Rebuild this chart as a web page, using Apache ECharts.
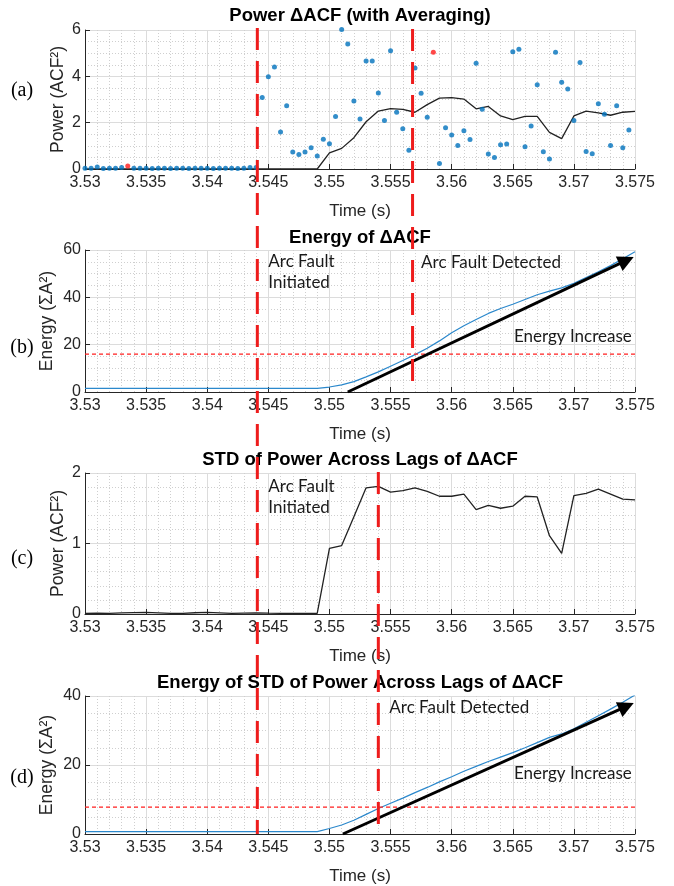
<!DOCTYPE html>
<html>
<head>
<meta charset="utf-8">
<title>Arc fault detection – ΔACF metrics</title>
<script src="https://cdn.jsdelivr.net/npm/echarts@6/dist/echarts.min.js"></script>
<style>
  html, body { margin: 0; padding: 0; background: #fff; }
  #chart { width: 674px; height: 886px; }
</style>
</head>
<body>
<div id="chart"></div>
<script>
// ---- sample instants of the raw ΔACF power (0.5 ms spacing) ----
const sampleTimes = [
  3.5300,3.5305,3.5310,3.5315,3.5320,3.5325,3.5330,3.5335,3.5340,3.5345,
  3.5350,3.5355,3.5360,3.5365,3.5370,3.5375,3.5380,3.5385,3.5390,3.5395,
  3.5400,3.5405,3.5410,3.5415,3.5420,3.5425,3.5430,3.5435,3.5440,3.5445,
  3.5450,3.5455,3.5460,3.5465,3.5470,3.5475,3.5480,3.5485,3.5490,3.5495,
  3.5500,3.5505,3.5510,3.5515,3.5520,3.5525,3.5530,3.5535,3.5540,3.5545,
  3.5550,3.5555,3.5560,3.5565,3.5570,3.5575,3.5580,3.5585,3.5590,3.5595,
  3.5600,3.5605,3.5610,3.5615,3.5620,3.5625,3.5630,3.5635,3.5640,3.5645,
  3.5650,3.5655,3.5660,3.5665,3.5670,3.5675,3.5680,3.5685,3.5690,3.5695,
  3.5700,3.5705,3.5710,3.5715,3.5720,3.5725,3.5730,3.5735,3.5740,3.5745
];
const powerSamples = [
  0.03,0.03,0.09,0.02,0.03,0.03,0.06,0.13,0.03,0.03,
  0.03,0.02,0.03,0.03,0.02,0.03,0.03,0.02,0.03,0.03,
  0.03,0.02,0.03,0.03,0.03,0.02,0.03,0.07,0.06,3.09,
  3.98,4.40,1.60,2.73,0.73,0.63,0.73,0.92,0.56,1.28,
  1.09,2.27,6.02,5.40,2.93,2.16,4.66,4.66,3.28,2.09,
  5.10,2.45,1.74,0.81,4.36,3.27,2.23,5.04,0.24,1.78,
  1.47,1.01,1.65,1.27,4.56,2.58,0.65,0.50,1.05,1.08,
  5.06,5.17,0.96,1.86,3.64,0.75,0.43,5.04,3.74,3.45,
  2.09,4.60,0.76,0.66,2.82,2.36,1.01,2.73,0.92,1.68
];
// samples drawn in red
const flaggedTimes = [3.5335, 3.5585];

// ---- windowed quantities (1 ms spacing) ----
const windowTimes = [
  3.530,3.531,3.532,3.533,3.534,3.535,3.536,3.537,3.538,3.539,
  3.540,3.541,3.542,3.543,3.544,3.545,3.546,3.547,3.548,3.549,
  3.550,3.551,3.552,3.553,3.554,3.555,3.556,3.557,3.558,3.559,
  3.560,3.561,3.562,3.563,3.564,3.565,3.566,3.567,3.568,3.569,
  3.570,3.571,3.572,3.573,3.574,3.575
];
const avgPower = [
  0,0,0,0,0,0,0,0,0,0, 0,0,0,0,0,0,0,0,0,0,
  0.70,0.89,1.35,2.04,2.50,2.61,2.57,2.45,2.78,3.06,
  3.08,3.02,2.60,2.70,2.29,2.13,2.27,2.27,1.58,1.31,
  2.29,2.50,2.42,2.32,2.45,2.49
];
const energyAcf = [
  1.5,1.5,1.5,1.5,1.5,1.5,1.5,1.5,1.5,1.5, 1.5,1.5,1.5,1.5,1.5,1.5,1.5,1.5,1.5,1.5,
  2.1,3.0,4.4,6.4,8.5,10.9,13.3,15.8,18.5,21.6,
  25.0,28.0,30.6,33.2,35.3,37.1,39.1,41.1,42.6,44.0,
  45.9,48.4,50.8,53.4,56.3,59.3
];
const stdPower = [
  0.010,0.012,0.010,0.015,0.020,0.022,0.015,0.008,0.010,0.018,
  0.022,0.015,0.008,0.012,0.015,0.012,0.010,0.010,0.010,0.010,
  0.93,0.97,1.38,1.79,1.81,1.73,1.75,1.79,1.74,1.67,
  1.67,1.70,1.48,1.54,1.50,1.53,1.67,1.66,1.11,0.86,
  1.68,1.71,1.77,1.70,1.63,1.62
];
const energyStd = [
  0.7,0.7,0.7,0.7,0.7,0.7,0.7,0.7,0.7,0.7, 0.7,0.7,0.7,0.7,0.7,0.7,0.7,0.7,0.7,0.7,
  1.6,2.6,4.0,5.7,7.4,8.9,10.4,12.0,13.5,15.1,
  16.6,18.2,19.6,21.0,22.3,23.6,25.0,26.5,28.0,29.0,
  30.5,32.4,34.3,36.2,38.2,40.3
];

// detection thresholds
const thresholdEnergyAcf = 16;
const thresholdEnergyStd = 7.8;

// event instants (s)
const faultInitTime = 3.5441;
const detectTimeAcf = 3.5568;
const detectTimeStd = 3.5540;

// trend arrows [start, end] in (time, energy)
const arrowAcf = [[3.5515, 0], [3.5743, 55.6]];
const arrowStd = [[3.5511, 0], [3.5743, 37.0]];

// axis tick labels
const timeTicks = ['3.53','3.535','3.54','3.545','3.55','3.555','3.56','3.565','3.57','3.575'];

const panelTitles = [
  'Power ΔACF (with Averaging)',
  'Energy of ΔACF',
  'STD of Power Across Lags of ΔACF',
  'Energy of STD of Power Across Lags of ΔACF'
];
const panelYNames = ['Power (ACF²)', 'Energy (ΣA²)', 'Power (ACF²)', 'Energy (ΣA²)'];
const panelLetters = ['(a)', '(b)', '(c)', '(d)'];

// ---------------------------------------------------------------
const SANS = 'Liberation Sans, Arial, Helvetica, sans-serif';
const NOTE_FONT = '17px Lato, "Open Sans", sans-serif';
const AX = '#262626';
const T_MIN = 3.53, T_MAX = 3.575;

const grids = [
  { left: 85, right: 39, top: 30,  height: 139 },
  { left: 85, right: 39, top: 250, height: 142 },
  { left: 85, right: 39, top: 473, height: 141 },
  { left: 85, right: 39, top: 696, height: 139 }
];
const titleTops = [6, 228, 450, 673];
// y label sits clear of one- or two-digit tick labels
const yNameGaps = [18, 29, 18, 29];
const yScales = [
  { max: 6,  interval: 2,  minor: 4 },
  { max: 60, interval: 20, minor: 4 },
  { max: 2,  interval: 1,  minor: 5 },
  { max: 40, interval: 20, minor: 4 }
];

const pair = (xs, ys) => xs.map((x, i) => [x, ys[i]]);

function xAxisFor(i) {
  return {
    type: 'value', gridIndex: i, min: T_MIN, max: T_MAX, interval: 0.005,
    axisLine: { show: true, onZero: false, lineStyle: { color: AX, width: 1 } },
    axisTick: { show: true, inside: true, length: 5, lineStyle: { color: AX } },
    axisLabel: {
      color: AX, fontSize: 16, fontFamily: SANS, margin: 6,
      formatter: v => timeTicks[Math.round((v - T_MIN) / 0.005)]
    },
    splitLine: { show: true, lineStyle: { color: '#dcdcdc', width: 1 } },
    minorTick: { show: false, splitNumber: 5 },
    minorSplitLine: { show: true, lineStyle: { color: '#cfcfcf', width: 1, type: [1, 2] } },
    name: 'Time (s)', nameLocation: 'middle', nameGap: 34, nameMoveOverlap: false,
    nameTextStyle: { color: AX, fontSize: 17, fontFamily: SANS }
  };
}
function yAxisFor(i) {
  const s = yScales[i];
  return {
    type: 'value', gridIndex: i, min: 0, max: s.max, interval: s.interval,
    axisLine: { show: true, lineStyle: { color: AX, width: 1 } },
    axisTick: { show: true, inside: true, length: 5, lineStyle: { color: AX } },
    axisLabel: { color: AX, fontSize: 16, fontFamily: SANS, margin: 4 },
    splitLine: { show: true, lineStyle: { color: '#dcdcdc', width: 1 } },
    minorTick: { show: false, splitNumber: s.minor },
    minorSplitLine: { show: true, lineStyle: { color: '#cfcfcf', width: 1, type: [1, 2] } },
    name: panelYNames[i], nameLocation: 'middle', nameGap: yNameGaps[i], nameMoveOverlap: false,
    nameTextStyle: { color: AX, fontSize: 17.5, fontFamily: SANS }
  };
}

// horizontal detection threshold across the full time span
const thresholdSeries = (idx, value) => ({
  type: 'line', xAxisIndex: idx, yAxisIndex: idx, silent: true, z: 4,
  showSymbol: false, symbol: 'none',
  lineStyle: { color: '#ff1f1f', width: 1.3, type: [4, 3] },
  data: [[T_MIN, value], [T_MAX, value]]
});
const arrowSeries = (idx, pts) => ({
  type: 'lines', coordinateSystem: 'cartesian2d', xAxisIndex: idx, yAxisIndex: idx,
  silent: true, z: 5,
  symbol: ['none', 'triangle'], symbolSize: [0, 16],
  lineStyle: { color: '#000', width: 3, opacity: 1 },
  data: [{ coords: pts }]
});

const option = {
  animation: false,
  backgroundColor: '#fff',
  title: panelTitles.map((t, i) => ({
    text: t, left: 360, top: titleTops[i], textAlign: 'center', padding: 0,
    textStyle: { color: '#000', fontSize: 18.5, fontWeight: 'bold', fontFamily: SANS }
  })),
  grid: grids,
  xAxis: [0, 1, 2, 3].map(xAxisFor),
  yAxis: [0, 1, 2, 3].map(yAxisFor),
  series: [
    {
      type: 'scatter', xAxisIndex: 0, yAxisIndex: 0, clip: false,
      symbol: 'circle', symbolSize: 5, z: 3,
      itemStyle: { color: '#0072BD' },
      data: sampleTimes.map((t, i) => {
        const flagged = flaggedTimes.some(f => Math.abs(f - t) < 1e-6);
        return flagged
          ? { value: [t, powerSamples[i]], itemStyle: { color: '#ff1a1a' } }
          : [t, powerSamples[i]];
      })
    },
    {
      type: 'line', xAxisIndex: 0, yAxisIndex: 0, showSymbol: false, symbol: 'none',
      lineStyle: { color: '#222', width: 1.3 }, z: 2,
      data: pair(windowTimes, avgPower)
    },
    thresholdSeries(1, thresholdEnergyAcf),
    {
      type: 'line', xAxisIndex: 1, yAxisIndex: 1, showSymbol: false, symbol: 'none',
      lineStyle: { color: '#2b88cc', width: 1.2 },
      data: pair(windowTimes, energyAcf)
    },
    arrowSeries(1, arrowAcf),
    {
      type: 'line', xAxisIndex: 2, yAxisIndex: 2, showSymbol: false, symbol: 'none',
      lineStyle: { color: '#222', width: 1.3 },
      data: pair(windowTimes, stdPower)
    },
    thresholdSeries(3, thresholdEnergyStd),
    {
      type: 'line', xAxisIndex: 3, yAxisIndex: 3, showSymbol: false, symbol: 'none',
      lineStyle: { color: '#2b88cc', width: 1.2 },
      data: pair(windowTimes, energyStd)
    },
    arrowSeries(3, arrowStd)
  ]
};

const chart = echarts.init(document.getElementById('chart'), null, { renderer: 'canvas' });
chart.setOption(option);

// ---- overlays placed through the axes' own scales ----
const px = (g, t, v) => chart.convertToPixel({ gridIndex: g }, [t, v]);

function eventLineTo(t, gTop, gBottom, vBottom, topOffset) {
  const a = px(gTop, t, yScales[gTop].max);
  const b = px(gBottom, t, vBottom);
  return {
    type: 'line', z: 100, silent: true,
    shape: { x1: a[0], y1: a[1] - topOffset, x2: b[0], y2: b[1] },
    style: { stroke: '#ee1c1c', lineWidth: 3, lineDash: [22, 11] }
  };
}
function note(g, t, v, text) {
  const p = px(g, t, v);
  return {
    type: 'text', z: 50, silent: true,
    style: { text, x: p[0], y: p[1], font: NOTE_FONT, fill: '#1a1a1a',
             textAlign: 'left', textVerticalAlign: 'middle', lineHeight: 21 }
  };
}

const letterY = [91, 348, 559, 778];
const graphics = [
  eventLineTo(faultInitTime, 0, 3, 0, 2),
  eventLineTo(detectTimeAcf, 0, 1, 3.4, 1),
  eventLineTo(detectTimeStd, 2, 3, 0, 1),
  note(1, 3.5450, 50.6, 'Arc Fault\nInitiated'),
  note(1, 3.5575, 54.8, 'Arc Fault Detected'),
  note(1, 3.5651, 23.5, 'Energy Increase'),
  note(2, 3.5450, 1.66, 'Arc Fault\nInitiated'),
  note(3, 3.5549, 36.6, 'Arc Fault Detected'),
  note(3, 3.5651, 17.5, 'Energy Increase')
].concat(panelLetters.map((l, i) => ({
  type: 'text', z: 50, silent: true,
  style: { text: l, x: 22, y: letterY[i], font: '20px "Liberation Serif", "Times New Roman", serif',
           fill: '#000', textAlign: 'center', textVerticalAlign: 'middle' }
})));

chart.setOption({ graphic: graphics });
</script>
</body>
</html>
